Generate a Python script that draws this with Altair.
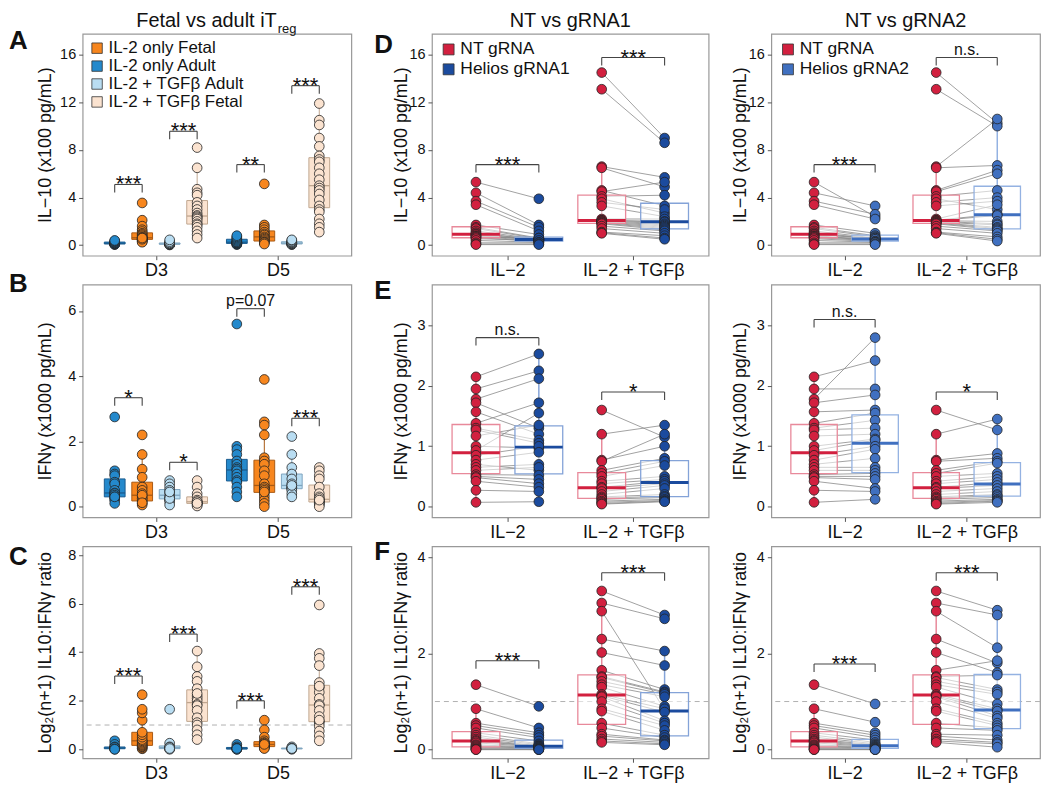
import altair as alt
import numpy as np
import pandas as pd

FONT = "Liberation Sans"

# ---------------- categories / labels ----------------
day_labels = ["D3", "D5"]
kd_conditions = ["IL\u22122", "IL\u22122 + TGF\u03b2"]

fa_x_order = ["IL-2 only Adult", "IL-2 only Fetal", "IL-2 + TGF\u03b2 Adult", "IL-2 + TGF\u03b2 Fetal"]
fa_legend_order = ["IL-2 only Fetal", "IL-2 only Adult", "IL-2 + TGF\u03b2 Adult", "IL-2 + TGF\u03b2 Fetal"]
fa_fill = ["#f7861e", "#2489cc", "#b9ddf2", "#fbe3d0"]
fa_edge = ["#a85a14", "#1a5b8e", "#7fa5bf", "#bfa68f"]

kd_groups_1 = ["NT gRNA", "Helios gRNA1"]
kd_groups_2 = ["NT gRNA", "Helios gRNA2"]
kd_fill_1 = ["#d2203f", "#1b4b9e"]
kd_fill_2 = ["#d2203f", "#4070c0"]
kd_edge_1 = ["#e8899a", "#84a3d8"]
kd_edge_2 = ["#e8899a", "#94b2e2"]

# ---------------- Panel A: IL-10 (x100 pg/mL) ----------------
il10_d3_adult = [0.05, 0.08, 0.1, 0.1, 0.12, 0.15, 0.18, 0.2, 0.25, 0.3, 0.35, 0.4]
il10_d3_fetal = [3.55, 2.1, 1.6, 1.3, 1.15, 1.0, 0.9, 0.8, 0.7, 0.65, 0.6, 0.55, 0.5, 0.45, 0.4, 0.35, 0.3, 0.25, 0.5, 0.6]
il10_d3_tgf_adult = [0.02, 0.05, 0.08, 0.1, 0.1, 0.12, 0.15, 0.2, 0.3, 0.45]
il10_d3_tgf_fetal = [8.2, 6.5, 4.7, 4.4, 4.2, 3.6, 3.3, 3.0, 2.7, 2.5, 2.4, 2.3, 2.2, 2.0, 1.8, 1.7, 1.5, 1.2, 0.9, 0.6]
il10_d5_adult = [0.05, 0.1, 0.1, 0.15, 0.2, 0.2, 0.25, 0.3, 0.4, 0.5, 0.6, 0.7, 0.8]
il10_d5_fetal = [5.15, 1.7, 1.5, 1.3, 1.1, 0.95, 0.85, 0.7, 0.6, 0.5, 0.4, 0.3, 0.25, 0.2, 0.1]
il10_d5_tgf_adult = [0.05, 0.08, 0.1, 0.12, 0.15, 0.2, 0.25, 0.3, 0.4, 0.45]
il10_d5_tgf_fetal = [11.9, 10.5, 10.1, 9.0, 8.3, 7.5, 7.2, 7.0, 6.5, 6.0, 5.5, 5.0, 4.8, 4.6, 4.3, 3.8, 3.3, 3.0, 2.8, 2.2, 1.8, 1.5, 1.1]

# ---------------- Panel B: IFNg (x1000 pg/mL) ----------------
ifng_d3_adult = [2.75, 1.1, 1.0, 0.95, 0.75, 0.7, 0.5, 0.42, 0.4, 0.35, 0.3, 0.25, 0.2, 0.1, 0.3]
ifng_d3_fetal = [2.2, 1.6, 1.15, 0.9, 0.6, 0.5, 0.4, 0.3, 0.25, 0.2, 0.15, 0.1, 0.05, 0.35, 0.12]
ifng_d3_tgf_adult = [0.8, 0.7, 0.6, 0.5, 0.4, 0.3, 0.25, 0.2, 0.15, 0.05, 0.25, 0.45]
ifng_d3_tgf_fetal = [0.8, 0.6, 0.4, 0.3, 0.2, 0.15, 0.12, 0.1, 0.08, 0.05, 0.02, 0.15, 0.1]
ifng_d5_adult = [5.6, 1.85, 1.75, 1.6, 1.4, 1.3, 1.2, 1.15, 1.1, 1.0, 0.9, 0.8, 0.75, 0.6, 0.45, 0.3]
ifng_d5_fetal = [3.9, 2.6, 2.5, 2.2, 1.5, 1.4, 1.3, 1.1, 0.95, 0.58, 0.7, 0.6, 0.55, 0.5, 0.4, 0.3, 0.2, 0.1, 0.0, 0.45]
ifng_d5_tgf_adult = [2.15, 1.6, 1.2, 1.0, 0.85, 0.7, 0.6, 0.58, 0.55, 0.5, 0.4, 0.3, 0.65]
ifng_d5_tgf_fetal = [1.2, 1.1, 0.95, 0.85, 0.6, 0.4, 0.3, 0.2, 0.18, 0.15, 0.12, 0.1, 0.05, 0.0, 0.25, 0.2]

# ---------------- Panel C: log2(n+1) IL10:IFNg ratio ----------------
ratio_d3_adult = [0.35, 0.2, 0.1, 0.05, 0.03, 0.0, 0.05, 0.08, 0.02, 0.0]
ratio_d3_fetal = [0.02, 0.05, 0.1, 0.12, 0.16, 0.2, 0.25, 0.3, 0.35, 0.4, 0.5, 0.6, 0.7, 1.2, 1.5, 1.65, 2.25]
ratio_d3_tgf_adult = [1.65, 0.25, 0.1, 0.05, 0.02, 0.0, 0.08, 0.03]
ratio_d3_tgf_fetal = [4.05, 3.4, 3.0, 2.8, 2.5, 2.2, 2.1, 2.0, 1.85, 1.8, 1.6, 1.3, 1.1, 1.0, 0.8, 0.6, 0.4, 2.3]
ratio_d5_adult = [0.2, 0.1, 0.05, 0.0, 0.02, 0.0, 0.03]
ratio_d5_fetal = [1.2, 0.8, 0.5, 0.35, 0.28, 0.25, 0.2, 0.18, 0.15, 0.12, 0.1, 0.08, 0.05, 0.03, 0.2]
ratio_d5_tgf_adult = [0.1, 0.05, 0.0, 0.02, 0.03]
ratio_d5_tgf_fetal = [5.95, 3.95, 3.75, 3.45, 2.75, 2.55, 2.35, 2.1, 1.85, 1.8, 1.6, 1.35, 1.15, 1.1, 0.95, 0.75, 0.55, 0.35, 2.6, 1.2]

# ---------------- Panels D-F: paired donors (NT vs Helios gRNA) ----------------
nt_il10_il2 = [5.3, 4.4, 3.7, 3.4, 1.7, 1.5, 1.4, 1.2, 1.05, 0.95, 0.9, 0.8, 0.75, 0.7, 0.65, 0.55, 0.4, 0.2, 0.1, 0.05]
g1_il10_il2 = [3.9, 1.7, 1.5, 1.2, 0.9, 0.6, 0.55, 0.5, 0.45, 0.5, 0.4, 0.45, 0.35, 0.6, 0.3, 0.4, 0.25, 0.2, 0.1, 0.05]
g2_il10_il2 = [2.4, 3.3, 2.6, 2.2, 1.0, 0.8, 0.7, 0.6, 0.55, 0.5, 0.6, 0.45, 0.4, 0.5, 0.35, 0.3, 0.25, 0.2, 0.1, 0.05]
nt_il10_tgf = [14.5, 13.1, 6.6, 6.5, 4.6, 4.5, 4.1, 3.9, 3.6, 3.3, 2.2, 2.1, 2.06, 2.05, 2.0, 1.95, 1.9, 1.85, 1.8, 1.6, 1.4, 1.1, 1.05, 1.0]
g1_il10_tgf = [9.0, 8.6, 5.7, 4.9, 3.3, 5.3, 4.2, 2.7, 3.0, 2.4, 2.2, 2.0, 1.95, 1.8, 1.7, 1.6, 1.5, 1.4, 1.3, 1.2, 1.0, 0.8, 0.6, 0.5]
g2_il10_tgf = [10.25, 10.0, 10.6, 6.7, 6.3, 6.0, 4.6, 3.0, 4.0, 3.7, 3.4, 2.6, 2.5, 2.0, 1.8, 1.7, 1.5, 1.4, 1.3, 1.2, 1.0, 0.7, 0.5, 0.35]

nt_ifng_il2 = [2.15, 1.95, 1.78, 1.72, 1.57, 1.38, 1.3, 1.27, 1.17, 1.0, 0.93, 0.85, 0.77, 0.7, 0.65, 0.6, 0.53, 0.5, 0.48, 0.42, 0.27, 0.07]
g1_ifng_il2 = [2.53, 2.25, 2.12, 1.3, 1.2, 1.72, 1.1, 1.05, 1.35, 0.97, 1.55, 1.0, 0.9, 0.6, 0.7, 0.65, 0.52, 0.45, 0.38, 0.32, 0.25, 0.08]
g2_ifng_il2 = [2.42, 1.95, 2.8, 1.85, 1.6, 1.55, 1.43, 1.3, 1.2, 1.12, 1.1, 1.0, 0.95, 0.8, 0.65, 0.6, 0.55, 0.5, 0.45, 0.3, 0.25, 0.12]
nt_ifng_tgf = [1.6, 1.2, 0.77, 0.75, 0.6, 0.55, 0.5, 0.42, 0.38, 0.32, 0.3, 0.25, 0.2, 0.16, 0.14, 0.12, 0.09, 0.07, 0.05, 0.04]
g1_ifng_tgf = [1.15, 1.35, 1.0, 1.2, 0.8, 0.75, 0.68, 0.5, 0.45, 0.42, 0.38, 0.35, 0.3, 0.2, 0.17, 0.15, 0.12, 0.1, 0.09, 0.08]
g2_ifng_tgf = [1.27, 1.45, 0.88, 0.8, 0.75, 0.72, 0.55, 0.5, 0.45, 0.4, 0.35, 0.3, 0.25, 0.2, 0.18, 0.15, 0.12, 0.1, 0.09, 0.07]

nt_ratio_il2 = [1.35, 0.85, 0.55, 0.5, 0.45, 0.35, 0.3, 0.26, 0.22, 0.19, 0.17, 0.14, 0.1, 0.08, 0.06, 0.04, 0.02, 0.01, 0.0, 0.0]
g1_ratio_il2 = [0.9, 0.45, 0.35, 0.3, 0.25, 0.18, 0.12, 0.1, 0.08, 0.07, 0.07, 0.06, 0.05, 0.04, 0.03, 0.02, 0.01, 0.0, 0.0, 0.0]
g2_ratio_il2 = [0.95, 0.57, 0.35, 0.3, 0.25, 0.2, 0.15, 0.12, 0.1, 0.09, 0.07, 0.06, 0.05, 0.04, 0.03, 0.02, 0.01, 0.0, 0.0, 0.0]
nt_ratio_tgf = [3.3, 3.05, 2.88, 2.3, 2.02, 1.65, 1.52, 1.5, 1.42, 1.35, 1.3, 1.15, 1.12, 1.1, 1.0, 0.85, 0.8, 0.55, 0.45, 0.32, 0.28, 0.22, 0.18, 0.15]
g1_ratio_tgf = [2.8, 2.72, 0.83, 2.05, 1.75, 1.25, 1.2, 1.18, 1.15, 1.1, 0.9, 0.85, 0.78, 0.6, 0.55, 0.5, 0.4, 0.3, 0.25, 0.2, 0.18, 0.15, 0.12, 0.1]
g2_ratio_tgf = [2.9, 2.8, 2.12, 1.8, 1.6, 1.85, 1.55, 1.25, 1.2, 1.15, 0.95, 0.85, 0.8, 0.7, 0.65, 0.55, 0.5, 0.45, 0.4, 0.3, 0.2, 0.15, 0.12, 0.05]

# ---------------- significance annotations (bracket top, label) ----------------
fa_sig_il10 = [(0, 0, 1, 5.1, "***"), (0, 2, 3, 9.57, "***"), (1, 0, 1, 6.77, "**"), (1, 2, 3, 13.4, "***")]
fa_sig_ifng = [(0, 0, 1, 3.34, "*"), (0, 2, 3, 1.36, "*"), (1, 0, 1, 6.07, "p=0.07"), (1, 2, 3, 2.71, "***")]
fa_sig_ratio = [(0, 0, 1, 3.02, "***"), (0, 2, 3, 4.75, "***"), (1, 0, 1, 2.0, "***"), (1, 2, 3, 6.7, "***")]
kd_sig_il10_g1 = [(0, 6.77, "***"), (1, 15.76, "***")]
kd_sig_il10_g2 = [(0, 6.77, "***"), (1, 15.76, "n.s.")]
kd_sig_ifng_g1 = [(0, 2.8, "n.s."), (1, 1.9, "*")]
kd_sig_ifng_g2 = [(0, 3.1, "n.s."), (1, 1.9, "*")]
kd_sig_ratio_g1 = [(0, 1.85, "***"), (1, 3.68, "***")]
kd_sig_ratio_g2 = [(0, 1.78, "***"), (1, 3.68, "***")]

# ---------------- layout constants ----------------
W1, W2, W3 = 270, 278, 270
H1, H2, H3 = 223, 234, 213
VSP = 29
XDOM = [0.4, 2.6]
FA_DODGE = 0.225
FA_BOXW = 0.17
KD_OFF = 0.25
KD_BOXW = 0.38

YT_IL10 = "IL\u221210 (x100 pg/mL)"
YT_IFNG = "IFN\u03b3 (x1000 pg/mL)"
YT_RATIO = "Log\u2082(n+1) IL10:IFN\u03b3 ratio"


def box_stats(vals):
    v = np.asarray(vals, dtype=float)
    q1, med, q3 = np.percentile(v, [25, 50, 75])
    iqr = q3 - q1
    lo = v[v >= q1 - 1.5 * iqr].min()
    hi = v[v <= q3 + 1.5 * iqr].max()
    return float(q1), float(med), float(q3), float(lo), float(hi)


def x_enc(labels, field="x"):
    expr = f"datum.value == 1 ? '{labels[0]}' : '{labels[1]}'"
    return alt.X(f"{field}:Q", scale=alt.Scale(domain=XDOM, nice=False, zero=False),
                 axis=alt.Axis(values=[1, 2], labelExpr=expr, title=None, grid=False, domain=False,
                               tickSize=4, tickColor="#555", labelFontSize=18, labelFont=FONT,
                               labelColor="#111", labelPadding=2),
                 title=None)


def y_enc(ydom, yticks, ytitle, tpad, field="y"):
    return alt.Y(f"{field}:Q", scale=alt.Scale(domain=ydom, nice=False, zero=False),
                 axis=alt.Axis(values=yticks, title=ytitle, grid=False, domain=False, tickSize=4,
                               tickColor="#555", labelFontSize=14.5, labelFont=FONT, labelColor="#111",
                               labelPadding=3, titleFontSize=18, titleFont=FONT,
                               titleFontWeight="normal", titleColor="#111", titlePadding=tpad,
                               minExtent=22, maxExtent=22, format="d"))


def sig_layers(segs, texts, xlab, ydom, yticks, ytitle, tpad):
    X = x_enc(xlab)
    Y = y_enc(ydom, yticks, ytitle, tpad)
    seg_df = pd.DataFrame(segs)
    txt_df = pd.DataFrame(texts)
    layers = [alt.Chart(seg_df).mark_rule(color="#444", strokeWidth=1.1).encode(
        x=X, x2=alt.X2("x2:Q"), y=Y, y2=alt.Y2("y2:Q"))]
    stars = txt_df[txt_df["star"]]
    other = txt_df[~txt_df["star"]]
    if len(stars):
        layers.append(alt.Chart(stars).mark_text(fontSize=22, dy=7, baseline="alphabetic", font=FONT,
                                                 color="#111").encode(x=X, y=Y, text="label:N"))
    if len(other):
        layers.append(alt.Chart(other).mark_text(fontSize=16, dy=-3, baseline="alphabetic", font=FONT,
                                                 color="#111").encode(x=X, y=Y, text="label:N"))
    return layers


def brackets(pairs_x, ydom, height):
    drop = 8.0 * (ydom[1] - ydom[0]) / height
    segs, texts = [], []
    for xa, xb, ytop, label in pairs_x:
        segs.append(dict(x=xa, x2=xb, y=ytop, y2=ytop))
        segs.append(dict(x=xa, x2=xa, y=ytop - drop, y2=ytop))
        segs.append(dict(x=xb, x2=xb, y=ytop - drop, y2=ytop))
        texts.append(dict(x=(xa + xb) / 2, y=ytop, label=label, star=label.startswith("*")))
    return segs, texts


ONE = pd.DataFrame({"k": [0]})


def letter_layer(letter, xpx, ypx):
    return alt.Chart(ONE).mark_text(text=letter, fontSize=26, fontWeight="bold", font=FONT, align="left",
                                    baseline="alphabetic", color="#111").encode(
        x=alt.value(xpx), y=alt.value(ypx))


def make_legend(xpx, ypx, size, fsize, rpad):
    return alt.Legend(orient="none", legendX=xpx, legendY=ypx, title=None, symbolType="square",
                      symbolSize=size, symbolStrokeColor="#333", symbolStrokeWidth=0.8,
                      labelFontSize=fsize, labelFont=FONT, labelColor="#111", labelOffset=3,
                      rowPadding=rpad, padding=0, symbolOpacity=1)


def fa_panel(groups_by_day, sigs, ydom, yticks, ytitle, width, height, letter, letter_y,
             legend=False, dashed=False, title=False):
    pts, boxes = [], []
    for di, glist in enumerate(groups_by_day):
        for gi, vals in enumerate(glist):
            xc = di + 1 + (gi - 1.5) * FA_DODGE
            for v in vals:
                pts.append(dict(x=xc, y=v, group=fa_x_order[gi]))
            q1, med, q3, lo, hi = box_stats(vals)
            boxes.append(dict(x=xc, xl=xc - FA_BOXW / 2, xr=xc + FA_BOXW / 2, q1=q1, med=med, q3=q3,
                              lo=lo, hi=hi, group=fa_x_order[gi], gs="s:" + fa_x_order[gi]))
    pts_df = pd.DataFrame(pts)
    box_df = pd.DataFrame(boxes)
    X = x_enc(day_labels)
    tpad = 6
    leg = make_legend(6, 6, 110, 17, 0) if legend else None
    fill = alt.Fill("group:N", scale=alt.Scale(domain=fa_legend_order, range=fa_fill), legend=leg)
    stroke = alt.Stroke("gs:N", scale=alt.Scale(domain=["s:" + g for g in fa_legend_order], range=fa_edge),
                        legend=None)

    def Yf(field):
        return y_enc(ydom, yticks, ytitle, tpad, field)

    layers = []
    if dashed:
        layers.append(alt.Chart(pd.DataFrame({"y": [1.0]})).mark_rule(
            color="#b0b0b0", strokeDash=[5, 4], strokeWidth=1).encode(y=Yf("y")))
    layers.append(alt.Chart(box_df).mark_rule(strokeWidth=1).encode(
        x=x_enc(day_labels, "x"), y=Yf("lo"), y2=alt.Y2("hi:Q"), stroke=stroke))
    layers.append(alt.Chart(box_df).mark_rect(strokeWidth=1).encode(
        x=x_enc(day_labels, "xl"), x2=alt.X2("xr:Q"), y=Yf("q1"), y2=alt.Y2("q3:Q"),
        fill=fill, stroke=stroke))
    layers.append(alt.Chart(box_df).mark_rule(strokeWidth=1.3).encode(
        x=x_enc(day_labels, "xl"), x2=alt.X2("xr:Q"), y=Yf("med"), stroke=stroke))
    layers.append(alt.Chart(pts_df).mark_circle(size=95, stroke="#222", strokeWidth=0.8, opacity=1).encode(
        x=X, y=Yf("y"), fill=fill))
    bx = [(di + 1 + (ga - 1.5) * FA_DODGE, di + 1 + (gb - 1.5) * FA_DODGE, yt, lab)
          for di, ga, gb, yt, lab in sigs]
    segs, texts = brackets(bx, ydom, height)
    layers += sig_layers(segs, texts, day_labels, ydom, yticks, ytitle, tpad)
    layers.append(letter_layer(letter, -74, letter_y))
    if title:
        layers.append(alt.Chart(ONE).mark_text(text="Fetal vs adult iT", fontSize=20, font=FONT, align="right",
                                               baseline="alphabetic", color="#111").encode(
            x=alt.value(width / 2 + 60), y=alt.value(-7)))
        layers.append(alt.Chart(ONE).mark_text(text="reg", fontSize=13, font=FONT, align="left",
                                               baseline="alphabetic", color="#111").encode(
            x=alt.value(width / 2 + 61), y=alt.value(-1)))
    return alt.layer(*layers).properties(width=width, height=height)


def kd_panel(nt_il2, g_il2, nt_tgf, g_tgf, groups, fills, edges, sigs, ydom, yticks, ytitle,
             width, height, letter=None, letter_y=0, legend=False, dashed=False, title=None, anchor=False):
    pts, boxes, pairs = [], [], []
    for ci, (nt, gv) in enumerate([(nt_il2, g_il2), (nt_tgf, g_tgf)]):
        c = ci + 1
        xa, xb = c - KD_OFF, c + KD_OFF
        for a, b in zip(nt, gv):
            pairs.append(dict(x=xa, x2=xb, y=a, y2=b))
        for gi, (xc, vals) in enumerate([(xa, nt), (xb, gv)]):
            for v in vals:
                pts.append(dict(x=xc, y=v, group=groups[gi]))
            q1, med, q3, lo, hi = box_stats(vals)
            boxes.append(dict(x=xc, xl=xc - KD_BOXW / 2, xr=xc + KD_BOXW / 2, q1=q1, med=med, q3=q3,
                              lo=lo, hi=hi, gs="s:" + groups[gi], gc="c:" + groups[gi]))
    pts_df = pd.DataFrame(pts)
    box_df = pd.DataFrame(boxes)
    pair_df = pd.DataFrame(pairs)
    tpad = 0

    def Yf(field):
        return y_enc(ydom, yticks, ytitle, tpad, field)

    leg = make_legend(8, 7, 120, 17.5, 1) if legend else None
    fill = alt.Fill("group:N", scale=alt.Scale(domain=groups, range=fills), legend=leg)
    stroke = alt.Stroke("gs:N", scale=alt.Scale(domain=["s:" + g for g in groups], range=edges), legend=None)
    color = alt.Color("gc:N", scale=alt.Scale(domain=["c:" + g for g in groups], range=fills), legend=None)
    X = x_enc(kd_conditions)
    layers = []
    layers.append(alt.Chart(pair_df).mark_rule(color="#8a8a8a", strokeWidth=0.8).encode(
        x=X, x2=alt.X2("x2:Q"), y=Yf("y"), y2=alt.Y2("y2:Q")))
    if dashed:
        layers.append(alt.Chart(pd.DataFrame({"y": [1.0]})).mark_rule(
            color="#b0b0b0", strokeDash=[5, 4], strokeWidth=1).encode(y=Yf("y")))
    layers.append(alt.Chart(box_df).mark_rule(strokeWidth=1.5).encode(
        x=x_enc(kd_conditions, "x"), y=Yf("lo"), y2=alt.Y2("hi:Q"), stroke=stroke))
    layers.append(alt.Chart(box_df).mark_rect(fill="white", fillOpacity=0.55, strokeWidth=1.3).encode(
        x=x_enc(kd_conditions, "xl"), x2=alt.X2("xr:Q"), y=Yf("q1"), y2=alt.Y2("q3:Q"), stroke=stroke))
    layers.append(alt.Chart(box_df).mark_rule(strokeWidth=3).encode(
        x=x_enc(kd_conditions, "xl"), x2=alt.X2("xr:Q"), y=Yf("med"), color=color))
    layers.append(alt.Chart(pts_df).mark_circle(size=95, stroke="#222", strokeWidth=0.8, opacity=1).encode(
        x=X, y=Yf("y"), fill=fill))
    bx = [(ci + 1 - KD_OFF, ci + 1 + KD_OFF, yt, lab) for ci, yt, lab in sigs]
    segs, texts = brackets(bx, ydom, height)
    layers += sig_layers(segs, texts, kd_conditions, ydom, yticks, ytitle, tpad)
    if letter:
        layers.append(letter_layer(letter, -58, letter_y))
    if anchor:
        layers.append(alt.Chart(ONE).mark_text(text=" ", fontSize=10, opacity=0).encode(
            x=alt.value(-56), y=alt.value(height / 2)))
    if title:
        layers.append(alt.Chart(ONE).mark_text(text=title, fontSize=20, font=FONT, align="center",
                                               baseline="alphabetic", color="#111").encode(
            x=alt.value(width / 2), y=alt.value(-7)))
    return alt.layer(*layers).properties(width=width, height=height)


# ---------------- build panels ----------------
YD_IL10 = [-0.88, 17.76]
YD_IFNG = [-0.33, 6.81]
YD_RATIO = [-0.37, 8.37]
YD_E = [-0.18, 3.68]
YD_F = [-0.18, 4.23]

pA = fa_panel([[il10_d3_adult, il10_d3_fetal, il10_d3_tgf_adult, il10_d3_tgf_fetal],
               [il10_d5_adult, il10_d5_fetal, il10_d5_tgf_adult, il10_d5_tgf_fetal]],
              fa_sig_il10, YD_IL10, [0, 4, 8, 12, 16], YT_IL10, W1, H1, "A", 15, legend=True, title=True)
pB = fa_panel([[ifng_d3_adult, ifng_d3_fetal, ifng_d3_tgf_adult, ifng_d3_tgf_fetal],
               [ifng_d5_adult, ifng_d5_fetal, ifng_d5_tgf_adult, ifng_d5_tgf_fetal]],
              fa_sig_ifng, YD_IFNG, [0, 2, 4, 6], YT_IFNG, W1, H2, "B", 7)
pC = fa_panel([[ratio_d3_adult, ratio_d3_fetal, ratio_d3_tgf_adult, ratio_d3_tgf_fetal],
               [ratio_d5_adult, ratio_d5_fetal, ratio_d5_tgf_adult, ratio_d5_tgf_fetal]],
              fa_sig_ratio, YD_RATIO, [0, 2, 4, 6, 8], YT_RATIO, W1, H3, "C", 19, dashed=True)

pD = kd_panel(nt_il10_il2, g1_il10_il2, nt_il10_tgf, g1_il10_tgf, kd_groups_1, kd_fill_1, kd_edge_1,
              kd_sig_il10_g1, YD_IL10, [0, 4, 8, 12, 16], YT_IL10, W2, H1, "D", 19, legend=True,
              title="NT vs gRNA1")
pE = kd_panel(nt_ifng_il2, g1_ifng_il2, nt_ifng_tgf, g1_ifng_tgf, kd_groups_1, kd_fill_1, kd_edge_1,
              kd_sig_ifng_g1, YD_E, [0, 1, 2, 3], YT_IFNG, W2, H2, "E", 15)
pF = kd_panel(nt_ratio_il2, g1_ratio_il2, nt_ratio_tgf, g1_ratio_tgf, kd_groups_1, kd_fill_1, kd_edge_1,
              kd_sig_ratio_g1, YD_F, [0, 2, 4], YT_RATIO, W2, H3, "F", 14, dashed=True)

pD2 = kd_panel(nt_il10_il2, g2_il10_il2, nt_il10_tgf, g2_il10_tgf, kd_groups_2, kd_fill_2, kd_edge_2,
               kd_sig_il10_g2, YD_IL10, [0, 4, 8, 12, 16], YT_IL10, W3, H1, legend=True,
               title="NT vs gRNA2", anchor=True)
pE2 = kd_panel(nt_ifng_il2, g2_ifng_il2, nt_ifng_tgf, g2_ifng_tgf, kd_groups_2, kd_fill_2, kd_edge_2,
               kd_sig_ifng_g2, YD_E, [0, 1, 2, 3], YT_IFNG, W3, H2, anchor=True)
pF2 = kd_panel(nt_ratio_il2, g2_ratio_il2, nt_ratio_tgf, g2_ratio_tgf, kd_groups_2, kd_fill_2, kd_edge_2,
               kd_sig_ratio_g2, YD_F, [0, 2, 4], YT_RATIO, W3, H3, dashed=True, anchor=True)


def column(*panels):
    return alt.vconcat(*panels, spacing=VSP, bounds="flush").resolve_scale(
        fill="independent", stroke="independent", color="independent")


col1 = column(pA, pB, pC)
col2 = column(pD, pE, pF)
col3 = column(pD2, pE2, pF2)

inner = alt.hconcat(col2, col3, spacing=4).resolve_scale(
    fill="independent", stroke="independent", color="independent")
chart = alt.hconcat(col1, inner, spacing=20).resolve_scale(
    fill="independent", stroke="independent", color="independent").properties(
    padding=0).configure_view(stroke="#999", strokeWidth=1.2).configure_axis(
    labelFont=FONT, titleFont=FONT)

chart.save("out.html", embed_options={"renderer": "svg", "actions": False})
